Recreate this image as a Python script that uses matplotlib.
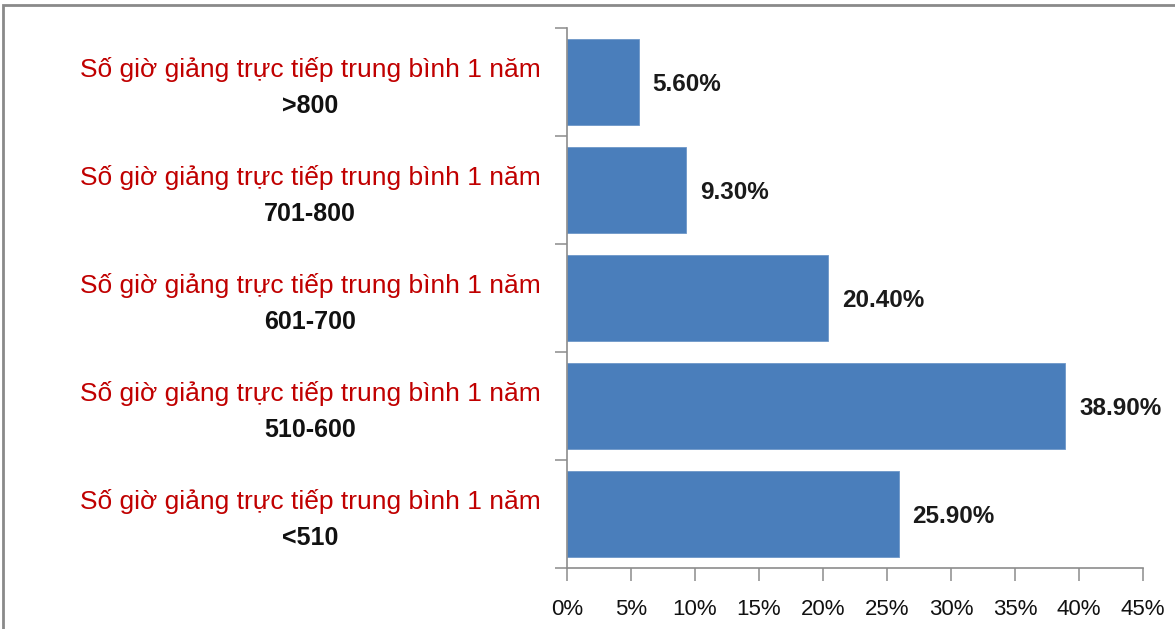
import numpy as np
import matplotlib.pyplot as plt
from matplotlib.patches import Rectangle
from matplotlib.transforms import blended_transform_factory

# data (bottom to top as drawn)
groups = ['<510', '510-600', '601-700', '701-800', '>800']
share = [25.9, 38.9, 20.4, 9.3, 5.6]
label_head = 'Số giờ giảng trực tiếp trung bình 1 năm'
xticks = [0, 5, 10, 15, 20, 25, 30, 35, 40, 45]

plt.rcParams['font.family'] = ['Liberation Sans', 'DejaVu Sans']

fig = plt.figure(figsize=(11.75, 6.29), dpi=100)
ax = fig.add_axes([567/1175, 1-568/629, (1143-567)/1175, (568-28)/629])

y = np.arange(len(groups))
ax.barh(y, share, height=0.8, color='#4a7ebb', edgecolor='#6e97c8', linewidth=0.6)

ax.set_xlim(0, 45)
ax.set_ylim(-0.5, len(groups) - 0.5)

# value labels
for yi, v in zip(y, share):
    ax.text(v + 1.1, yi - 0.02, f'{v:.2f}%', va='center', ha='left',
            fontsize=17.5, fontweight='bold', color='#1a1a1a')

# category labels: red line + bold black line
tr = blended_transform_factory(fig.transFigure, ax.transData)
for yi, g in zip(y, groups):
    fig.text(310/1175, yi + 0.12, label_head, transform=tr, ha='center', va='center',
             fontsize=19, color='#c00000')
    fig.text(310/1175, yi - 0.22, g, transform=tr, ha='center', va='center',
             fontsize=18, fontweight='bold', color='#111111')

# axes styling
for s in ['top', 'right']:
    ax.spines[s].set_visible(False)
for s in ['left', 'bottom']:
    ax.spines[s].set_color('#8c8c8c')
    ax.spines[s].set_linewidth(1.2)

ax.set_xticks(xticks)
ax.set_xticklabels([f'{t}%' for t in xticks], fontsize=16, color='#111111')
ax.tick_params(axis='x', direction='out', length=9, width=1.1, color='#8c8c8c', pad=13)

ax.set_yticks(np.arange(-0.5, len(groups), 1.0))
ax.set_yticklabels([])
ax.tick_params(axis='y', direction='out', length=9, width=1.1, color='#8c8c8c')

# chart frame
fig.patches.append(Rectangle((3/1175, -0.05), 1.1, 1 - 5/629 + 0.05, transform=fig.transFigure,
                             fill=False, edgecolor='#8a8a8a', linewidth=2.0))

fig.savefig('out.png', dpi=100)
